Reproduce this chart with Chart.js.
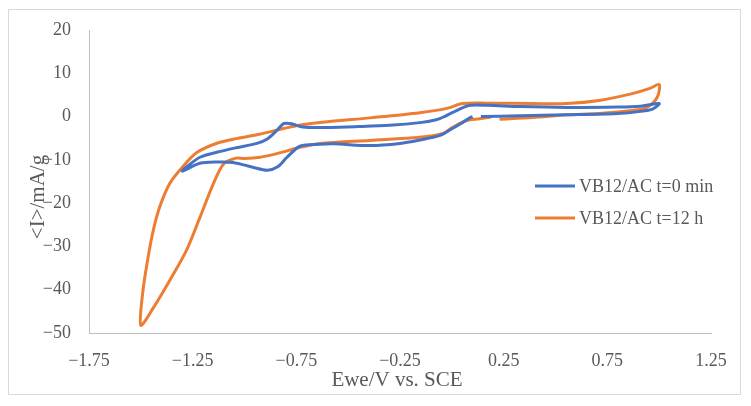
<!DOCTYPE html>
<html>
<head>
<meta charset="utf-8">
<script src="https://cdn.jsdelivr.net/npm/chart.js@4.4.1/dist/chart.umd.min.js"></script>
<style>
  html, body { margin: 0; padding: 0; background: #ffffff; }
  #wrap { position: relative; width: 751px; height: 406px; }
</style>
</head>
<body>
<div id="wrap"><canvas id="c" width="751" height="406"></canvas></div>
<script>
// ---- Data ----
const seriesNames = ["VB12/AC t=0 min", "VB12/AC t=12 h"];

const blueX = [0.10, 0.087, 0.04, -0.01, -0.06, -0.154, -0.25, -0.395, -0.57, -0.636, -0.73, -0.795, -0.84, -0.89, -0.96, -1.055, -1.13, -1.215, -1.30,
  -1.27, -1.215, -1.13, -1.04, -0.94, -0.89, -0.84, -0.81, -0.77, -0.72, -0.60, -0.45, -0.30, -0.154, -0.08, -0.04, 0.04, 0.09, 0.17, 0.33, 0.55, 0.80, 0.91, 1.00,
  0.97, 0.91, 0.80, 0.55, 0.33, 0.14];
const blueY = [0.0, -0.3, -1.7, -3.1, -4.4, -5.4, -6.2, -6.7, -6.3, -6.4, -6.8, -9.4, -11.6, -12.4, -11.7, -10.6, -10.5, -10.8, -12.6,
  -11.3, -9.4, -8.2, -7.2, -6.2, -5.2, -3.0, -1.6, -1.7, -2.4, -2.5, -2.3, -2.0, -1.4, -0.8, -0.1, 1.8, 2.6, 2.6, 2.3, 2.1, 2.2, 2.4, 3.0,
  1.8, 1.2, 0.7, 0.4, 0.2, 0.0];

const orangeX = [0.19, 0.135, 0.07, 0.03, 0.0, -0.043, -0.154, -0.395, -0.636, -0.733, -0.84, -0.925, -1.0, -1.04, -1.10, -1.15, -1.215, -1.28, -1.36, -1.44, -1.50,
  -1.49, -1.465, -1.44, -1.41, -1.36, -1.30, -1.23, -1.13, -1.04, -0.93, -0.84, -0.75, -0.60, -0.395, -0.154, -0.024, 0.053, 0.17, 0.39, 0.555, 0.71, 0.87, 0.955, 1.00,
  0.99, 0.94, 0.87, 0.71, 0.555, 0.39, 0.23];
const orangeY = [-0.1, -0.5, -0.9, -1.8, -2.6, -3.9, -4.8, -5.5, -6.2, -7.1, -8.5, -9.4, -9.7, -9.6, -10.9, -15.5, -23.3, -30.9, -37.8, -44.2, -48.2,
  -40.3, -32.5, -26.3, -21.0, -15.4, -11.7, -8.3, -6.1, -5.1, -4.1, -3.1, -2.1, -1.2, -0.3, 0.9, 1.9, 3.0, 3.1, 3.0, 3.0, 3.7, 5.3, 6.5, 7.4,
  4.4, 2.1, 1.4, 0.7, 0.4, -0.2, -0.6];

const xTicks = [-1.75, -1.25, -0.75, -0.25, 0.25, 0.75, 1.25];
const yTicks = [-50, -40, -30, -20, -10, 0, 10, 20];

const xTitle = "Ewe/V vs. SCE";
const yTitle = "<I>/mA/g";

// ---- Build ----
const toPts = (xs, ys) => xs.map((x, i) => ({ x: x, y: ys[i] }));
const FONT = "'Liberation Serif', 'Times New Roman', serif";
const TXT = "#595959";
const fmt = v => String(v).replace("-", "\u2212");

const frame = {
  id: "frame",
  beforeDraw(chart) {
    const ctx = chart.ctx;
    ctx.save();
    ctx.fillStyle = "#ffffff";
    ctx.fillRect(0, 0, chart.width, chart.height);
    ctx.strokeStyle = "#d9d9d9";
    ctx.lineWidth = 1;
    ctx.strokeRect(8.5, 9.5, 732, 385);
    ctx.restore();
  },
  afterDraw(chart) {
    const ctx = chart.ctx;
    ctx.save();
    // axis titles
    ctx.fillStyle = TXT;
    ctx.font = "21px " + FONT;
    ctx.textAlign = "center";
    ctx.textBaseline = "middle";
    ctx.fillText(xTitle, 397, 380);
    ctx.translate(38, 197);
    ctx.rotate(-Math.PI / 2);
    ctx.fillText(yTitle, 0, 0);
    ctx.restore();
    // legend
    ctx.save();
    ctx.font = "18px " + FONT;
    ctx.textAlign = "left";
    ctx.textBaseline = "middle";
    const rows = [186, 218];
    chart.data.datasets.forEach((ds, i) => {
      ctx.strokeStyle = ds.borderColor;
      ctx.lineWidth = 3;
      ctx.beginPath();
      ctx.moveTo(535, rows[i]);
      ctx.lineTo(575, rows[i]);
      ctx.stroke();
      ctx.fillStyle = TXT;
      ctx.fillText(ds.label, 579, rows[i] + 1);
    });
    ctx.restore();
  }
};

new Chart(document.getElementById("c"), {
  type: "scatter",
  data: {
    datasets: [
      { label: seriesNames[0], data: toPts(blueX, blueY), showLine: true, borderColor: "#4472C4", backgroundColor: "#4472C4", borderWidth: 3, pointRadius: 0, tension: 0.3, fill: false },
      { label: seriesNames[1], data: toPts(orangeX, orangeY), showLine: true, borderColor: "#ED7D31", backgroundColor: "#ED7D31", borderWidth: 3, pointRadius: 0, tension: 0.3, fill: false }
    ]
  },
  options: {
    responsive: false,
    animation: false,
    devicePixelRatio: 1,
    layout: { padding: { left: 0, top: 30, right: 40, bottom: 0 } },
    plugins: { legend: { display: false }, tooltip: { enabled: false } },
    scales: {
      x: {
        type: "linear",
        min: -1.75, max: 1.25,
        afterBuildTicks: s => { s.ticks = xTicks.map(v => ({ value: v })); },
        afterFit: s => { s.height = 73; },
        grid: { display: false, drawTicks: false },
        border: { display: true, color: "#bfbfbf", width: 1 },
        ticks: { padding: 17, color: TXT, font: { family: FONT, size: 18 }, callback: v => fmt(v), maxRotation: 0, autoSkip: false }
      },
      y: {
        type: "linear",
        min: -50, max: 20,
        afterBuildTicks: s => { s.ticks = yTicks.map(v => ({ value: v })); },
        afterFit: s => { s.width = 89; },
        grid: { display: false, drawTicks: false },
        border: { display: true, color: "#bfbfbf", width: 1 },
        ticks: { padding: 18, color: TXT, font: { family: FONT, size: 18 }, callback: v => fmt(v), autoSkip: false }
      }
    }
  },
  plugins: [frame]
});
</script>
</body>
</html>
